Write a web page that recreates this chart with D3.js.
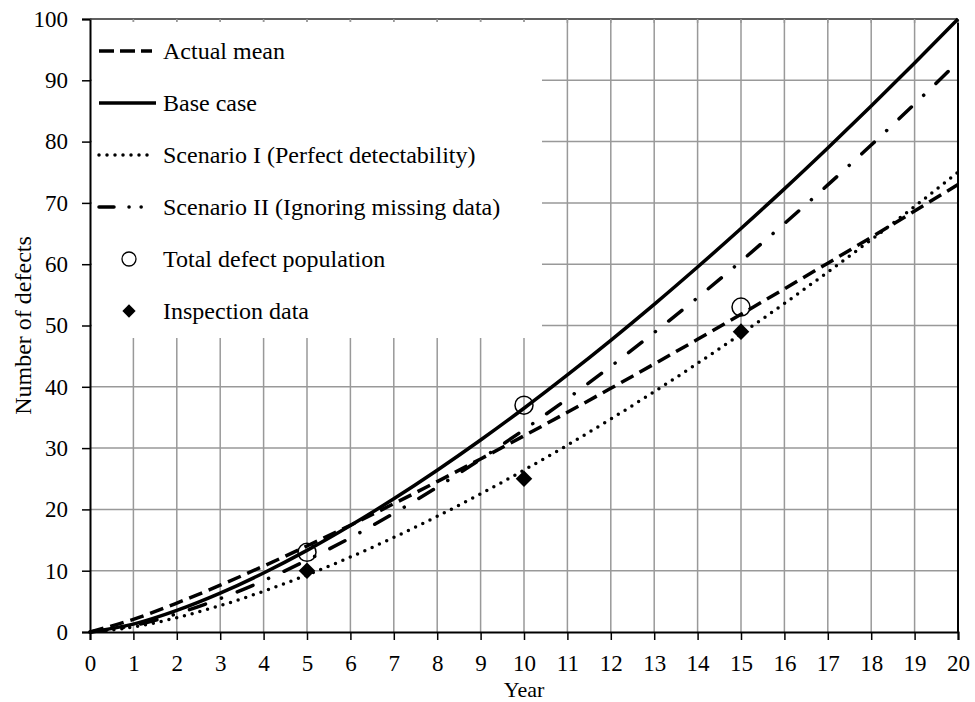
<!DOCTYPE html>
<html><head><meta charset="utf-8">
<script src="https://cdn.jsdelivr.net/npm/d3@7"></script>
<style>body{margin:0;background:#fff}svg{display:block}text{font-family:"Liberation Serif","Times New Roman",serif;fill:#000}</style>
</head><body>
<script>
const years = d3.range(0, 21);
const actualMean = [0,2.07,4.72,7.64,10.76,14.03,17.42,20.93,24.54,28.23,32.00,35.84,39.75,43.72,47.75,51.84,55.98,60.17,64.39,68.68,73];
const baseCase = [0,1.28,3.52,6.34,9.63,13.32,17.37,21.73,26.39,31.32,36.50,41.93,47.58,53.45,59.54,65.82,72.29,78.96,85.80,92.81,100];
const scenario1 = [0,0.82,2.34,4.31,6.64,9.30,12.23,15.43,18.87,22.53,26.41,30.48,34.75,39.20,43.83,48.63,53.60,58.72,63.99,69.42,75];
const scenario2 = [0,1.06,2.97,5.45,8.38,11.71,15.37,19.36,23.63,28.19,33.00,38.05,43.34,48.85,54.56,60.49,66.63,72.94,79.44,86.14,93];
const obsYears = [5, 10, 15];
const totalPop = [13, 37, 53];
const inspection = [10, 25, 49];
const yTicks = d3.range(0, 101, 10);
const legendLabels = ["Actual mean","Base case","Scenario I (Perfect detectability)","Scenario II (Ignoring missing data)","Total defect population","Inspection data"];

const W = 975, H = 702;
const m = {l: 90, r: 17, t: 19, b: 70};
const svg = d3.select("body").append("svg").attr("width", W).attr("height", H);
const x = d3.scaleLinear().domain([0, 20]).range([m.l, W - m.r]);
const y = d3.scaleLinear().domain([0, 100]).range([H - m.b, m.t]);

// grid
const g = svg.append("g");
g.selectAll(".vg").data(years.slice(1)).join("line")
  .attr("x1", d => x(d)).attr("x2", d => x(d)).attr("y1", y(0)).attr("y2", y(100))
  .attr("stroke", "#999").attr("stroke-width", 1.5);
g.selectAll(".hg").data(yTicks.slice(1)).join("line")
  .attr("x1", x(0)).attr("x2", x(20)).attr("y1", d => y(d)).attr("y2", d => y(d))
  .attr("stroke", "#999").attr("stroke-width", 1.5);

// axes
const xAxis = svg.append("g").attr("transform", `translate(0,${y(0)})`)
  .call(d3.axisBottom(x).tickValues(years).tickSize(8).tickPadding(15).tickFormat(d3.format("d")));
const yAxis = svg.append("g").attr("transform", `translate(${x(0)},0)`)
  .call(d3.axisLeft(y).tickValues(yTicks).tickSize(8).tickPadding(14));
[xAxis, yAxis].forEach(a => {
  a.select(".domain").attr("stroke", "#000").attr("stroke-width", 2);
  a.selectAll(".tick line").attr("stroke", "#000").attr("stroke-width", 1.5);
  a.selectAll(".tick text").attr("font-size", 23).attr("font-family", "Liberation Serif").attr("fill", "#000");
});
svg.append("line").attr("x1", x(20)).attr("x2", x(20)).attr("y1", y(0)).attr("y2", y(100)).attr("stroke", "#000").attr("stroke-width", 2);
svg.append("line").attr("x1", x(0)).attr("x2", x(20)).attr("y1", y(100)).attr("y2", y(100)).attr("stroke", "#444").attr("stroke-width", 1.5);
svg.selectAll(".toptick").data(years.slice(1)).join("line")
  .attr("x1", d => x(d)).attr("x2", d => x(d)).attr("y1", y(100)).attr("y2", y(100) + 4)
  .attr("stroke", "#999").attr("stroke-width", 1.5);

// legend background (hides grid)
svg.append("rect").attr("x", x(0) + 2).attr("y", y(100) + 3).attr("width", 450)
  .attr("height", 316).attr("fill", "#fff");

const styles = [
  {data: actualMean, dash: "14 7", cap: "butt", w: 3.5},
  {data: baseCase, dash: null, cap: "butt", w: 3.5},
  {data: scenario1, dash: "0 8", cap: "round", w: 3.5},
  {data: scenario2, dash: "17 17 0.1 17", cap: "round", w: 3.5}
];
const line = d3.line().x((d, i) => x(years[i])).y(d => y(d)).curve(d3.curveMonotoneX);
styles.forEach(s => {
  svg.append("path").attr("d", line(s.data)).attr("fill", "none").attr("stroke", "#000")
    .attr("stroke-width", s.w).attr("stroke-dasharray", s.dash).attr("stroke-linecap", s.cap);
});

// markers
svg.selectAll(".circ").data(totalPop).join("circle")
  .attr("cx", (d, i) => x(obsYears[i])).attr("cy", d => y(d)).attr("r", 9)
  .attr("fill", "none").attr("stroke", "#000").attr("stroke-width", 1.5);
const diamond = d3.symbol().type(d3.symbolDiamond2).size(175);
svg.selectAll(".dia").data(inspection).join("path")
  .attr("d", diamond).attr("transform", (d, i) => `translate(${x(obsYears[i])},${y(d)})`).attr("fill", "#000");

// legend
const ly0 = 51, ldy = 52;
const lg = svg.append("g");
legendLabels.forEach((lab, i) => {
  const yy = ly0 + i * ldy;
  if (i < 4) {
    const s = styles[i];
    let dash = s.dash;
    if (i === 0) dash = "15 6";
    if (i === 2) dash = "0 8";
    if (i === 3) dash = "15 15 0.1 12 0.1 12";
    lg.append("line").attr("x1", 99).attr("x2", i === 1 ? 156 : 152).attr("y1", yy).attr("y2", yy)
      .attr("stroke", "#000").attr("stroke-width", s.w).attr("stroke-dasharray", dash).attr("stroke-linecap", s.cap);
  } else if (i === 4) {
    lg.append("circle").attr("cx", 129).attr("cy", yy).attr("r", 7).attr("fill", "none").attr("stroke", "#000").attr("stroke-width", 1.3);
  } else {
    lg.append("path").attr("d", d3.symbol().type(d3.symbolDiamond2).size(112)).attr("transform", `translate(129,${yy})`).attr("fill", "#000");
  }
  lg.append("text").attr("x", 163).attr("y", yy).attr("dy", "0.33em").attr("font-size", 24).text(lab);
});

// axis titles
svg.append("text").attr("x", x(10)).attr("y", 697).attr("text-anchor", "middle").attr("font-size", 22).text("Year");
svg.append("text").attr("transform", `translate(31,${y(50)}) rotate(-90)`).attr("text-anchor", "middle").attr("font-size", 24).text("Number of defects");
</script>
</body></html>
